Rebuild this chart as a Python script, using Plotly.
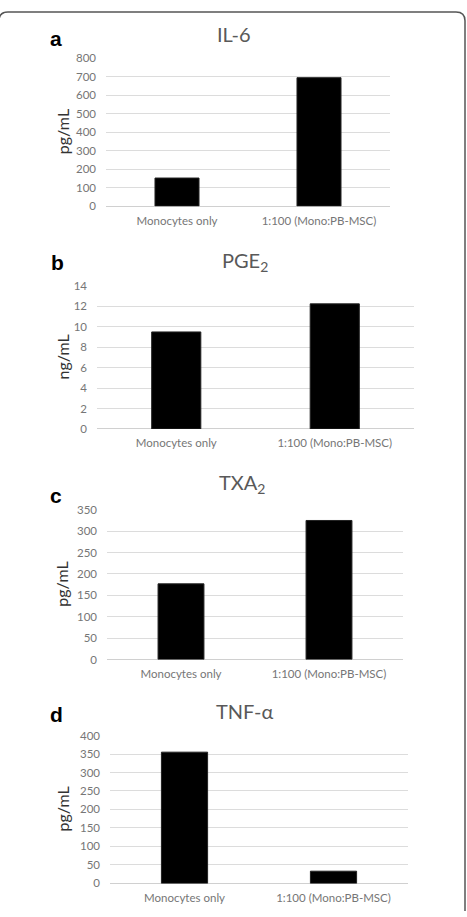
import plotly.graph_objects as go

W, H = 467, 917

categories = ["Monocytes only", "1:100 (Mono:PB-MSC)"]
panel_letters = ["a", "b", "c", "d"]
panel_titles = ["IL-6", "PGE<sub>2</sub>", "TXA<sub>2</sub>", "TNF-α"]
y_titles = ["pg/mL", "ng/mL", "pg/mL", "pg/mL"]
il6_values = [152, 695]
pge2_values = [9.5, 12.25]
txa2_values = [177, 325]
tnfa_values = [355, 33]
y_max = [800, 14, 350, 400]
y_dtick = [100, 2, 50, 50]
series = [il6_values, pge2_values, txa2_values, tnfa_values]

# layout in pixels (left, right, top, bottom) of each plot area
boxes = [(106, 390, 52, 202), (97, 414, 283, 428), (107, 403, 510, 662), (110, 408, 739, 889)]
title_pos = [(233, 27), (245, 258), (242, 483), (245, 714)]
letter_pos = [(56, 32), (57, 259), (56, 496), (56, 718)]

def px(x):
    return x / W

def py(y):
    return 1 - y / H

fig = go.Figure()
annotations = []
tick_font = dict(family="Lato, Open Sans, sans-serif", size=11.5, color="#767676")

for i in range(4):
    xa = "x" if i == 0 else f"x{i+1}"
    ya = "y" if i == 0 else f"y{i+1}"
    fig.add_trace(go.Bar(
        x=categories, y=series[i], xaxis=xa, yaxis=ya,
        marker=dict(color="black", line=dict(color="#222", width=1)),
        width=0.31, showlegend=False, hoverinfo="x+y"))
    l, r, t, b = boxes[i]
    xkey = "xaxis" if i == 0 else f"xaxis{i+1}"
    ykey = "yaxis" if i == 0 else f"yaxis{i+1}"
    fig.update_layout(**{
        xkey: dict(domain=[px(l), px(r)], anchor=ya, showgrid=False, showline=False,
                   ticks="", tickfont=tick_font, ticklabelstandoff=6, fixedrange=True),
        ykey: dict(domain=[py(b), py(t)], anchor=xa, range=[0, y_max[i]], dtick=y_dtick[i],
                   showgrid=True, gridcolor="#dcdcdc", gridwidth=1, zeroline=True,
                   zerolinecolor="#d0d0d0", zerolinewidth=1, showline=False, ticks="",
                   tickfont=tick_font, ticklabelstandoff=9, fixedrange=True),
    })
    tx, ty = title_pos[i]
    annotations.append(dict(text=panel_titles[i], x=px(tx), y=py(ty), xref="paper", yref="paper",
                            showarrow=False, xanchor="center", yanchor="middle",
                            font=dict(family="Lato, Open Sans, sans-serif", size=20, color="#595959")))
    lx, ly = letter_pos[i]
    annotations.append(dict(text="<b>" + panel_letters[i] + "</b>", x=px(lx), y=py(ly), xref="paper",
                            yref="paper", showarrow=False, xanchor="center", yanchor="middle",
                            font=dict(family="Liberation Sans, Arial, sans-serif", size=21, color="black")))
    annotations.append(dict(text=y_titles[i], x=px(62), y=py((t + b) / 2), xref="paper", yref="paper",
                            showarrow=False, textangle=-90, xanchor="center", yanchor="middle",
                            font=dict(family="Lato, Open Sans, sans-serif", size=16, color="#333333")))

fig.update_layout(
    width=W, height=H, margin=dict(l=0, r=0, t=0, b=0),
    paper_bgcolor="white", plot_bgcolor="white",
    bargap=0.69, annotations=annotations,
)

def P(x, y):
    return f"{px(x):.5f},{py(y):.5f}"

path = (f"M {P(-1, 917)} L {P(-1, 14)} Q {P(-1, 5)} {P(8, 5)} L {P(456, 5)} "
        f"Q {P(465, 5)} {P(465, 14)} L {P(465, 917)}")
fig.add_shape(type="path", path=path, xref="paper", yref="paper", line=dict(color="#555", width=1.5))

fig.write_html("out.html")
